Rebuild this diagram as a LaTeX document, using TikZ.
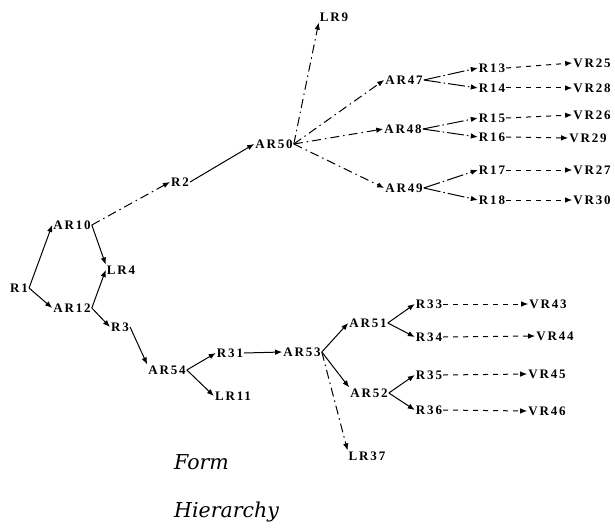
\documentclass[tikz,border=0pt]{standalone}
\usepackage{fontspec}
\newfontfamily\lblfont[LetterSpace=14]{Liberation Serif}
\newfontfamily\capfont{DejaVu Serif}
\usetikzlibrary{arrows.meta}
\begin{document}
\begin{tikzpicture}[x=1pt,y=-1pt,>={Latex[length=7pt,width=5.5pt]}]
\tikzstyle{every node}=[font=\lblfont\bfseries\fontsize{13}{14}\selectfont,inner sep=1pt];
\tikzstyle{arc}=[->,line width=1pt]
\tikzstyle{alt}=[->,line width=1pt,dash pattern=on 9pt off 4pt on 1.5pt off 4pt]
\tikzstyle{fork}=[->,line width=1pt,dash pattern=on 17pt off 3pt on 1.5pt off 3pt]
\tikzstyle{val}=[->,line width=1pt,dash pattern=on 5pt off 5pt]
\tikzstyle{caption}=[font=\capfont\itshape\fontsize{20.5}{24}\selectfont,anchor=west]
\useasboundingbox (0,0) rectangle (615,532);
\path (19,288) node (R1) {R1}
 (72,225) node (AR10) {AR10}
 (72,308) node (AR12) {AR12}
 (121,270) node (LR4) {LR4}
 (120,327) node (R3) {R3}
 (167,370) node (AR54) {AR54}
 (230,353) node (R31) {R31}
 (233,396) node (LR11) {LR11}
 (302,352) node (AR53) {AR53}
 (368,323) node (AR51) {AR51}
 (369,393) node (AR52) {AR52}
 (367,456) node (LR37) {LR37}
 (180,182) node (R2) {R2}
 (274,144) node (AR50) {AR50}
 (334,17) node (LR9) {LR9}
 (404,80) node (AR47) {AR47}
 (403,129) node (AR48) {AR48}
 (404,188) node (AR49) {AR49};
\foreach \n/\y in {33/304,34/337,35/375,36/410}
 \path (429,\y) node (R\n) {R\n};
\foreach \n/\x/\y in {43/548/304,44/555/336,45/547/374,46/547/411}
 \path (\x,\y) node (VR\n) {VR\n};
\foreach \n/\y in {13/68,14/88,15/118,16/137,17/170,18/200}
 \path (492,\y) node (R\n) {R\n};
\foreach \n/\x/\y in {25/592/63,28/592/88,26/592/115,29/588/138,27/592/170,30/592/200}
 \path (\x,\y) node (VR\n) {VR\n};
\path (173,462) node[caption] (form) {Form}
 (173,512) node[caption] (hier) {Hierarchy};
\foreach \a/\b in {R1/AR10.west,R1/AR12.west,AR10/LR4.north west,AR12/LR4.west,
 AR12/R3.west,R3/AR54.north west,AR54/R31.west,AR54/LR11.west,R31/AR53.west,
 R2/AR50.west,AR53/AR51.west,AR53/AR52.north west,AR51/R33.west,AR51/R34.west,
 AR52/R35.west,AR52/R36.west}
 \draw[arc] (\a.east) -- (\b);
\foreach \a/\b in {AR10/R2.west,AR50/LR9.south west,AR50/AR47.west,AR50/AR48.west,
 AR50/AR49.west,AR53/LR37.north west}
 \draw[alt] (\a.east) -- (\b);
\foreach \a/\b in {AR47/R13,AR47/R14,AR48/R15,AR48/R16,AR49/R17,AR49/R18}
 \draw[fork] (\a.east) -- (\b.west);
\foreach \a/\b in {R13/VR25,R14/VR28,R15/VR26,R16/VR29,R17/VR27,R18/VR30,
 R33/VR43,R34/VR44,R35/VR45,R36/VR46}
 \draw[val] (\a.east) -- (\b.west);
\end{tikzpicture}
\end{document}
